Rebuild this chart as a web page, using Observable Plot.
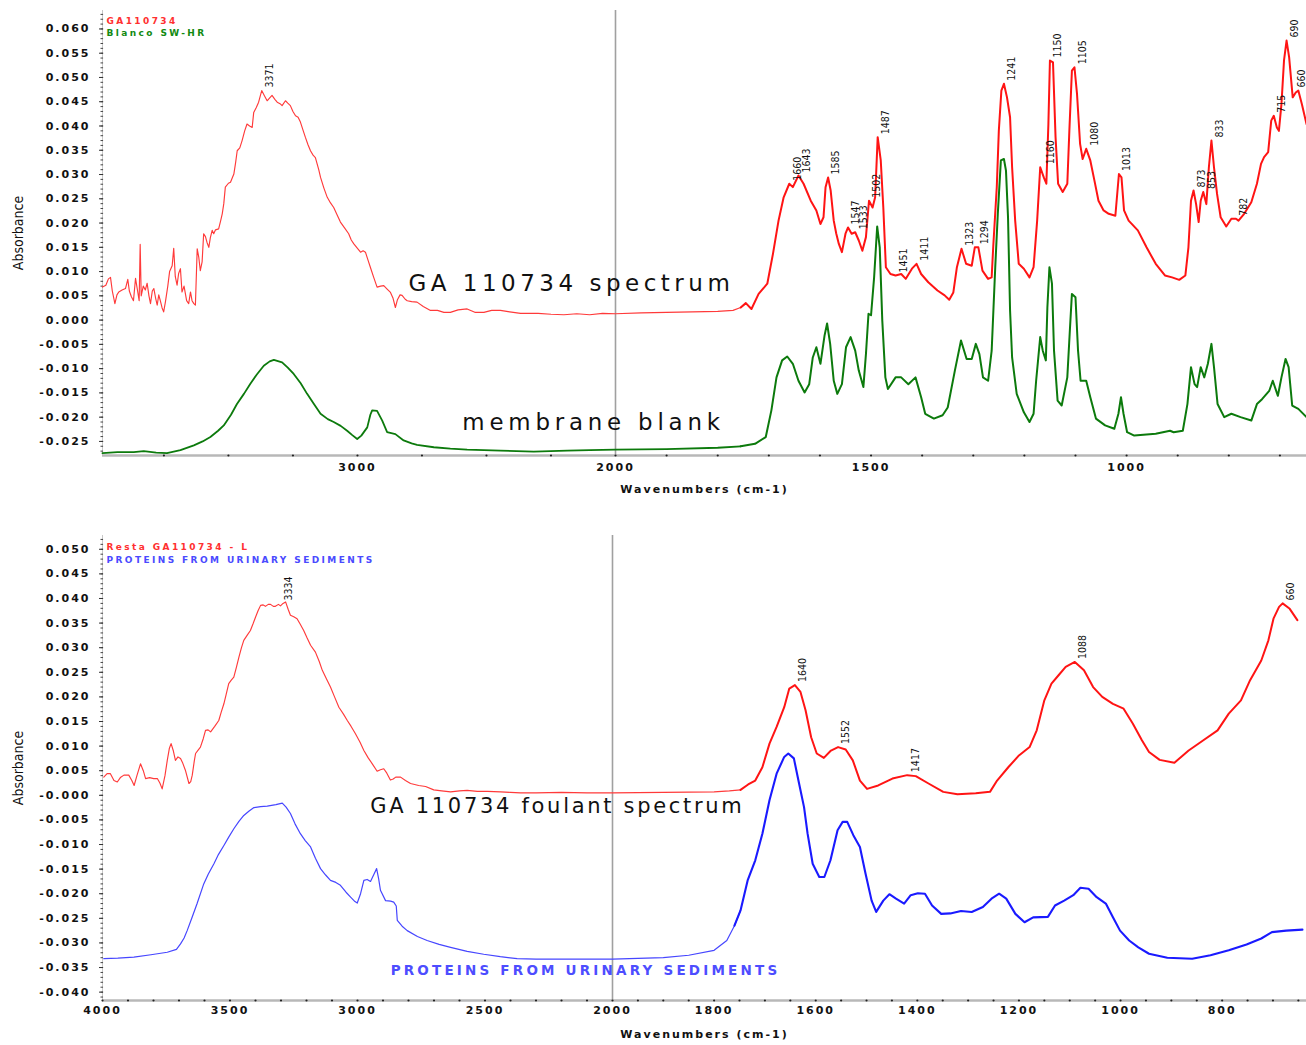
<!DOCTYPE html>
<html><head><meta charset="utf-8">
<script src="https://cdn.jsdelivr.net/npm/d3@7"></script>
<script src="https://cdn.jsdelivr.net/npm/@observablehq/plot@0.6"></script>
<style>
html,body{margin:0;padding:0;background:#fff;}
body{width:1306px;height:1045px;overflow:hidden;}
svg{display:block;}
</style>
</head><body><div id="chart"></div>
<script>
// ---------------- DATA (wavenumber cm-1, absorbance) ----------------
const gaSpectrum = [
[3988,0.0068],[3975,0.0072],[3965,0.0085],[3957,0.0088],[3950,0.0060],[3940,0.0034],[3932,0.0052],[3925,0.0058],[3912,0.0062],[3899,0.0065],[3890,0.0084],[3884,0.0060],[3876,0.0048],[3868,0.0040],[3860,0.0086],[3852,0.0060],[3846,0.0040],[3842,0.0156],[3838,0.0050],[3830,0.0070],[3822,0.0062],[3815,0.0076],[3808,0.0050],[3802,0.0034],[3795,0.0060],[3789,0.0065],[3782,0.0045],[3776,0.0031],[3770,0.0052],[3764,0.0040],[3757,0.0025],[3751,0.0017],[3744,0.0038],[3735,0.0070],[3728,0.0100],[3718,0.0112],[3712,0.0148],[3706,0.0090],[3699,0.0072],[3693,0.0096],[3686,0.0106],[3680,0.0058],[3672,0.0070],[3662,0.0040],[3654,0.0034],[3647,0.0058],[3641,0.0040],[3634,0.0034],[3628,0.0031],[3621,0.0147],[3615,0.0130],[3609,0.0102],[3602,0.0120],[3596,0.0178],[3589,0.0172],[3583,0.0160],[3576,0.0150],[3570,0.0170],[3563,0.0185],[3557,0.0178],[3550,0.0186],[3538,0.0188],[3530,0.0205],[3524,0.0219],[3518,0.0240],[3512,0.0274],[3500,0.0282],[3492,0.0284],[3479,0.0301],[3472,0.0325],[3466,0.0349],[3456,0.0355],[3447,0.0370],[3437,0.0390],[3428,0.0404],[3418,0.0400],[3408,0.0397],[3402,0.0428],[3392,0.0438],[3383,0.0449],[3371,0.0473],[3360,0.0462],[3350,0.0452],[3340,0.0458],[3331,0.0463],[3320,0.0455],[3311,0.0449],[3300,0.0446],[3292,0.0442],[3279,0.0452],[3270,0.0447],[3260,0.0442],[3250,0.0430],[3240,0.0421],[3230,0.0418],[3221,0.0408],[3210,0.0390],[3202,0.0377],[3192,0.0362],[3182,0.0349],[3172,0.0340],[3163,0.0335],[3150,0.0310],[3143,0.0294],[3130,0.0272],[3117,0.0253],[3105,0.0242],[3092,0.0232],[3080,0.0218],[3066,0.0202],[3050,0.0190],[3034,0.0178],[3024,0.0165],[3014,0.0157],[3000,0.0148],[2988,0.0140],[2978,0.0143],[2969,0.0140],[2960,0.0125],[2950,0.0109],[2937,0.0088],[2924,0.0068],[2910,0.0070],[2898,0.0071],[2885,0.0064],[2872,0.0057],[2862,0.0045],[2853,0.0026],[2845,0.0042],[2835,0.0052],[2827,0.0051],[2815,0.0043],[2807,0.0040],[2790,0.0038],[2769,0.0037],[2745,0.0028],[2717,0.0020],[2690,0.0020],[2665,0.0016],[2640,0.0016],[2610,0.0021],[2575,0.0023],[2545,0.0016],[2510,0.0016],[2480,0.0020],[2446,0.0020],[2410,0.0017],[2368,0.0014],[2300,0.0014],[2250,0.0012],[2200,0.0011],[2150,0.0013],[2100,0.0011],[2050,0.0014],[2000,0.0013],
[1950,0.0015],[1900,0.0016],[1850,0.0017],[1800,0.0018],[1770,0.0020],[1755,0.0026],[1745,0.0035],[1734,0.0023],[1720,0.0054],[1703,0.0075],[1692,0.0136],[1681,0.0205],[1671,0.0253],[1660,0.0281],[1653,0.0274],[1642,0.0298],[1632,0.0281],[1618,0.0246],[1607,0.0226],[1599,0.0198],[1593,0.0212],[1589,0.0274],[1584,0.0294],[1579,0.0267],[1573,0.0205],[1568,0.0178],[1563,0.0157],[1557,0.0140],[1550,0.0178],[1545,0.0191],[1538,0.0178],[1531,0.0181],[1524,0.0164],[1517,0.0143],[1510,0.0171],[1504,0.0246],[1497,0.0232],[1492,0.0253],[1487,0.0377],[1481,0.0329],[1476,0.0232],[1471,0.0109],[1462,0.0095],[1452,0.0092],[1441,0.0095],[1432,0.0085],[1420,0.0106],[1411,0.0116],[1402,0.0095],[1388,0.0078],[1370,0.0061],[1356,0.0051],[1347,0.0042],[1339,0.0057],[1332,0.0109],[1323,0.0147],[1314,0.0116],[1303,0.0112],[1297,0.0150],[1290,0.0150],[1282,0.0102],[1271,0.0085],[1264,0.0088],[1261,0.0150],[1254,0.0274],[1250,0.0390],[1245,0.0473],[1240,0.0487],[1234,0.0459],[1228,0.0418],[1224,0.0315],[1218,0.0205],[1211,0.0116],[1201,0.0106],[1190,0.0088],[1182,0.0109],[1175,0.0205],[1169,0.0315],[1162,0.0294],[1157,0.0281],[1153,0.0404],[1150,0.0535],[1144,0.0531],[1139,0.0377],[1134,0.0281],[1125,0.0264],[1116,0.0281],[1112,0.0390],[1107,0.0514],[1102,0.0521],[1097,0.0466],[1091,0.0363],[1086,0.0332],[1079,0.0353],[1071,0.0329],[1063,0.0288],[1055,0.0246],[1045,0.0226],[1035,0.0219],[1022,0.0215],[1015,0.0301],[1010,0.0294],[1005,0.0226],[996,0.0205],[978,0.0185],[961,0.0150],[943,0.0116],[925,0.0092],[911,0.0088],[897,0.0083],[885,0.0092],[879,0.0150],[874,0.0246],[869,0.0267],[864,0.0239],[859,0.0202],[855,0.0246],[850,0.0264],[844,0.0239],[839,0.0315],[834,0.0370],[829,0.0315],[823,0.0260],[816,0.0212],[805,0.0193],[795,0.0209],[786,0.0209],[781,0.0205],[770,0.0219],[756,0.0243],[745,0.0281],[737,0.0322],[731,0.0336],[723,0.0346],[717,0.0411],[712,0.0421],[706,0.0397],[702,0.0390],[697,0.0445],[692,0.0535],[687,0.0576],[682,0.0542],[675,0.0459],[669,0.0469],[664,0.0473],[657,0.0445],[648,0.0404]
];
const blankSpectrum = [
[3988,-0.0274],[3930,-0.0272],[3867,-0.0272],[3828,-0.0270],[3780,-0.0273],[3738,-0.0274],[3686,-0.0268],[3634,-0.0258],[3600,-0.0250],[3570,-0.0241],[3540,-0.0228],[3518,-0.0217],[3490,-0.0195],[3467,-0.0173],[3440,-0.0152],[3415,-0.0131],[3390,-0.0112],[3363,-0.0094],[3340,-0.0085],[3324,-0.0082],[3292,-0.0087],[3270,-0.0098],[3247,-0.0111],[3220,-0.0130],[3195,-0.0152],[3170,-0.0172],[3143,-0.0193],[3115,-0.0204],[3092,-0.0210],[3065,-0.0218],[3040,-0.0228],[3020,-0.0237],[3001,-0.0245],[2985,-0.0238],[2962,-0.0221],[2950,-0.0195],[2943,-0.0186],[2924,-0.0187],[2904,-0.0207],[2885,-0.0231],[2853,-0.0235],[2821,-0.0248],[2790,-0.0254],[2769,-0.0257],[2704,-0.0262],[2640,-0.0265],[2575,-0.0267],[2446,-0.0269],[2317,-0.0271],[2187,-0.0269],[2100,-0.0268],[2000,-0.0267],[1900,-0.0266],[1800,-0.0263],[1755,-0.0260],[1727,-0.0255],[1706,-0.0241],[1695,-0.0186],[1685,-0.0118],[1674,-0.0083],[1664,-0.0075],[1653,-0.0090],[1642,-0.0125],[1630,-0.0149],[1621,-0.0132],[1614,-0.0077],[1607,-0.0056],[1599,-0.0090],[1591,-0.0032],[1586,-0.0007],[1580,-0.0049],[1573,-0.0125],[1566,-0.0152],[1557,-0.0132],[1549,-0.0056],[1540,-0.0035],[1531,-0.0063],[1524,-0.0104],[1515,-0.0138],[1510,-0.0070],[1505,0.0013],[1500,0.0010],[1494,0.0088],[1488,0.0193],[1483,0.0150],[1478,-0.0001],[1472,-0.0118],[1467,-0.0142],[1452,-0.0118],[1441,-0.0118],[1427,-0.0132],[1413,-0.0118],[1402,-0.0159],[1394,-0.0193],[1377,-0.0203],[1360,-0.0196],[1350,-0.0180],[1336,-0.0104],[1324,-0.0042],[1313,-0.0080],[1303,-0.0080],[1295,-0.0049],[1288,-0.0070],[1281,-0.0118],[1271,-0.0125],[1264,-0.0063],[1257,0.0109],[1252,0.0219],[1246,0.0329],[1240,0.0332],[1236,0.0308],[1232,0.0212],[1228,0.0020],[1224,-0.0077],[1215,-0.0152],[1201,-0.0190],[1190,-0.0210],[1182,-0.0193],[1177,-0.0125],[1169,-0.0035],[1164,-0.0063],[1158,-0.0083],[1155,0.0026],[1151,0.0109],[1146,0.0075],[1142,-0.0063],[1135,-0.0166],[1127,-0.0176],[1116,-0.0118],[1111,-0.0021],[1107,0.0054],[1100,0.0047],[1095,-0.0063],[1090,-0.0125],[1079,-0.0125],[1071,-0.0159],[1060,-0.0203],[1042,-0.0217],[1024,-0.0224],[1016,-0.0193],[1011,-0.0159],[1006,-0.0193],[999,-0.0231],[985,-0.0238],[943,-0.0234],[915,-0.0228],[908,-0.0231],[890,-0.0228],[881,-0.0173],[874,-0.0097],[867,-0.0132],[862,-0.0138],[855,-0.0097],[848,-0.0118],[841,-0.0090],[834,-0.0049],[829,-0.0097],[822,-0.0173],[809,-0.0200],[795,-0.0193],[777,-0.0200],[756,-0.0207],[745,-0.0173],[735,-0.0163],[721,-0.0146],[714,-0.0125],[704,-0.0156],[697,-0.0118],[689,-0.0080],[683,-0.0097],[676,-0.0176],[664,-0.0183],[648,-0.0200]
];
const foulantSpectrum = [
[3995,0.0037],[3982,0.0044],[3969,0.0044],[3955,0.0030],[3942,0.0027],[3930,0.0036],[3916,0.0041],[3897,0.0041],[3885,0.0030],[3876,0.0020],[3865,0.0040],[3851,0.0064],[3840,0.0050],[3831,0.0034],[3815,0.0036],[3799,0.0034],[3785,0.0034],[3775,0.0025],[3766,0.0013],[3755,0.0040],[3746,0.0071],[3738,0.0095],[3731,0.0105],[3722,0.0090],[3714,0.0071],[3704,0.0078],[3694,0.0075],[3685,0.0065],[3675,0.0051],[3661,0.0024],[3654,0.0028],[3648,0.0041],[3640,0.0070],[3635,0.0085],[3625,0.0092],[3616,0.0098],[3605,0.0115],[3596,0.0132],[3586,0.0133],[3576,0.0129],[3560,0.0140],[3544,0.0152],[3535,0.0168],[3524,0.0186],[3515,0.0205],[3505,0.0227],[3495,0.0234],[3485,0.0240],[3475,0.0260],[3465,0.0281],[3455,0.0300],[3446,0.0315],[3433,0.0325],[3420,0.0335],[3410,0.0348],[3400,0.0362],[3390,0.0375],[3380,0.0386],[3370,0.0387],[3361,0.0384],[3350,0.0388],[3341,0.0388],[3330,0.0384],[3322,0.0384],[3310,0.0388],[3302,0.0385],[3292,0.0390],[3282,0.0393],[3272,0.0378],[3263,0.0366],[3250,0.0363],[3237,0.0359],[3225,0.0348],[3211,0.0335],[3198,0.0320],[3184,0.0305],[3165,0.0291],[3150,0.0272],[3138,0.0254],[3122,0.0237],[3106,0.0220],[3090,0.0200],[3073,0.0179],[3055,0.0165],[3040,0.0152],[3025,0.0140],[3008,0.0125],[2990,0.0108],[2975,0.0091],[2958,0.0076],[2942,0.0064],[2923,0.0049],[2910,0.0052],[2897,0.0054],[2885,0.0045],[2871,0.0031],[2860,0.0033],[2850,0.0037],[2831,0.0037],[2812,0.0030],[2792,0.0024],[2760,0.0020],[2733,0.0018],[2701,0.0011],[2670,0.0009],[2635,0.0007],[2600,0.0009],[2570,0.0010],[2530,0.0008],[2490,0.0008],[2439,0.0007],[2400,0.0006],[2361,0.0005],[2300,0.0005],[2200,0.0006],[2100,0.0005],[2000,0.0005],[1900,0.0006],[1800,0.0007],[1770,0.0009],[1748,0.0011],
[1733,0.0022],[1719,0.0030],[1705,0.0057],[1691,0.0105],[1677,0.0139],[1662,0.0179],[1652,0.0217],[1641,0.0224],[1630,0.0210],[1620,0.0173],[1609,0.0118],[1598,0.0085],[1584,0.0076],[1570,0.0091],[1556,0.0098],[1541,0.0093],[1527,0.0071],[1513,0.0030],[1499,0.0013],[1477,0.0020],[1449,0.0034],[1420,0.0041],[1403,0.0039],[1378,0.0024],[1349,0.0007],[1321,0.0002],[1285,0.0004],[1257,0.0007],[1243,0.0030],[1221,0.0057],[1200,0.0081],[1179,0.0098],[1165,0.0132],[1150,0.0193],[1136,0.0227],[1122,0.0244],[1108,0.0261],[1090,0.0271],[1072,0.0254],[1054,0.0220],[1036,0.0200],[1015,0.0186],[994,0.0176],[976,0.0146],[958,0.0112],[944,0.0088],[923,0.0072],[894,0.0066],[866,0.0091],[837,0.0112],[809,0.0132],[787,0.0166],[763,0.0193],[745,0.0234],[723,0.0274],[709,0.0315],[699,0.0359],[688,0.0383],[681,0.0390],[667,0.0379],[652,0.0356]
];
const proteinSpectrum = [
[3995,-0.0332],[3940,-0.0331],[3877,-0.0329],[3810,-0.0324],[3746,-0.0319],[3710,-0.0313],[3694,-0.0302],[3680,-0.0290],[3668,-0.0275],[3650,-0.0250],[3629,-0.0220],[3603,-0.0180],[3585,-0.0160],[3563,-0.0139],[3545,-0.0120],[3524,-0.0102],[3505,-0.0085],[3485,-0.0068],[3465,-0.0053],[3446,-0.0041],[3425,-0.0032],[3406,-0.0025],[3380,-0.0023],[3354,-0.0022],[3320,-0.0019],[3295,-0.0016],[3280,-0.0024],[3263,-0.0037],[3245,-0.0058],[3224,-0.0078],[3205,-0.0092],[3184,-0.0105],[3165,-0.0128],[3145,-0.0149],[3125,-0.0162],[3106,-0.0173],[3085,-0.0177],[3067,-0.0183],[3045,-0.0197],[3027,-0.0207],[3010,-0.0216],[3001,-0.0219],[2988,-0.0200],[2975,-0.0173],[2962,-0.0171],[2949,-0.0175],[2935,-0.0160],[2925,-0.0149],[2917,-0.0170],[2910,-0.0193],[2890,-0.0214],[2870,-0.0215],[2858,-0.0217],[2848,-0.0225],[2844,-0.0254],[2825,-0.0266],[2805,-0.0275],[2765,-0.0287],[2727,-0.0295],[2680,-0.0303],[2635,-0.0309],[2570,-0.0317],[2505,-0.0323],[2440,-0.0328],[2374,-0.0332],[2300,-0.0333],[2200,-0.0333],[2100,-0.0333],[2000,-0.0333],[1900,-0.0330],[1850,-0.0325],[1800,-0.0315],[1775,-0.0295],[1760,-0.0265],[1748,-0.0234],
[1734,-0.0173],[1719,-0.0132],[1705,-0.0078],[1691,-0.0010],[1677,0.0044],[1662,0.0078],[1654,0.0085],[1643,0.0075],[1634,0.0030],[1623,-0.0024],[1616,-0.0078],[1606,-0.0139],[1593,-0.0166],[1583,-0.0166],[1571,-0.0132],[1557,-0.0071],[1547,-0.0054],[1538,-0.0054],[1526,-0.0081],[1513,-0.0105],[1502,-0.0159],[1490,-0.0214],[1481,-0.0237],[1467,-0.0214],[1455,-0.0201],[1442,-0.0210],[1426,-0.0220],[1413,-0.0203],[1399,-0.0199],[1385,-0.0200],[1371,-0.0224],[1353,-0.0241],[1335,-0.0240],[1314,-0.0235],[1293,-0.0237],[1271,-0.0227],[1254,-0.0210],[1239,-0.0200],[1225,-0.0210],[1207,-0.0241],[1189,-0.0258],[1172,-0.0248],[1143,-0.0247],[1129,-0.0224],[1111,-0.0214],[1093,-0.0203],[1079,-0.0188],[1063,-0.0190],[1047,-0.0207],[1029,-0.0220],[1015,-0.0248],[1001,-0.0275],[983,-0.0295],[965,-0.0309],[944,-0.0322],[908,-0.0330],[859,-0.0332],[823,-0.0325],[787,-0.0315],[752,-0.0303],[723,-0.0291],[702,-0.0278],[674,-0.0275],[642,-0.0273]
];
// peak labels: [wavenumber, absorbance, label]
const topPeaks = [
[3371,0.0473,"3371"],[1660,0.0281,"1660"],[1642,0.0298,"1643"],[1584,0.0294,"1585"],[1545,0.0191,"1547"],[1531,0.0181,"1533"],[1504,0.0246,"1502"],[1487,0.0377,"1487"],[1452,0.0092,"1451"],[1411,0.0116,"1411"],[1323,0.0147,"1323"],[1294,0.0150,"1294"],[1240,0.0487,"1241"],[1165,0.0315,"1160"],[1150,0.0535,"1150"],[1102,0.0521,"1105"],[1079,0.0353,"1080"],[1015,0.0301,"1013"],[869,0.0267,"873"],[850,0.0264,"853"],[834,0.0370,"833"],[786,0.0209,"782"],[712,0.0421,"715"],[687,0.0576,"690"],[664,0.0473,"660"]
];
const bottomPeaks = [
[3300,0.0390,"3334"],[1641,0.0224,"1640"],[1556,0.0098,"1552"],[1420,0.0041,"1417"],[1090,0.0271,"1088"],[681,0.0390,"660"]
];
// annotations: [wavenumber, absorbance, text]
const topAnnotations = [[2171,0.0075,"GA 110734 spectrum"],[2085,-0.0212,"membrane blank"]];
const bottomAnnotations = [[2216,-0.0022,"GA 110734 foulant spectrum"],[2106,-0.0356,"PROTEINS FROM URINARY SEDIMENTS"]];
// legends
const topLegend = ["GA110734","Blanco SW-HR"];
const bottomLegend = ["Resta GA110734 - L","PROTEINS FROM URINARY SEDIMENTS"];
// ticks
const topXTicks = [3000,2000,1500,1000];
const topXLabels = ["3000","2000","1500","1000"];
const bottomXTicks = [4000,3500,3000,2500,2000,1800,1600,1400,1200,1000,800];
const bottomXLabels = ["4000","3500","3000","2500","2000","1800","1600","1400","1200","1000","800"];
const topYTicks = [0.060,0.055,0.050,0.045,0.040,0.035,0.030,0.025,0.020,0.015,0.010,0.005,0.000,-0.005,-0.010,-0.015,-0.020,-0.025];
const topYLabels = ["0.060","0.055","0.050","0.045","0.040","0.035","0.030","0.025","0.020","0.015","0.010","0.005","0.000","-0.005","-0.010","-0.015","-0.020","-0.025"];
const bottomYTicks = [0.050,0.045,0.040,0.035,0.030,0.025,0.020,0.015,0.010,0.005,0.000,-0.005,-0.010,-0.015,-0.020,-0.025,-0.030,-0.035,-0.040];
const bottomYLabels = ["0.050","0.045","0.040","0.035","0.030","0.025","0.020","0.015","0.010","0.005","-0.000","-0.005","-0.010","-0.015","-0.020","-0.025","-0.030","-0.035","-0.040"];

// ---------------- DRAWING ----------------
const FONT = "'DejaVu Sans', Verdana, sans-serif";
const NARROW = "'Liberation Sans Narrow', 'DejaVu Sans Condensed', 'Liberation Sans', sans-serif";

function panel(p) {
  const xLeft = p.xDomain[0];
  const [yLo, yHi] = p.yDomain;
  const minorY = d3.range(Math.ceil(yLo * 1000), Math.floor(yHi * 1000) + 1).map(k => k / 1000);
  const marks = [
    Plot.ruleX([xLeft], {stroke: "#c8c8c8", strokeWidth: 1}),
    Plot.ruleY(minorY, {y: d => d, x1: xLeft, x2: xLeft - p.dashLen, dx: -1.5, stroke: "#444", strokeWidth: 1}),
    Plot.ruleY(p.yTicks, {y: d => d, x1: xLeft, x2: xLeft - p.dashLen * 1.6, dx: -3, stroke: "#333", strokeWidth: 1}),
    Plot.ruleX([2000], {stroke: "#a0a0a0", strokeWidth: 1.6}),
    Plot.ruleY([yLo], {stroke: "#b8b8b8", strokeWidth: 2.5}),
    Plot.dot(p.xMinor, {x: d => d, y: yLo, r: 1.1, fill: "#222", stroke: "none"})
  ];
  for (const s of p.series) {
    const left = s.data.filter(d => d[0] >= 1745);
    const right = s.data.filter(d => d[0] <= 1760);
    marks.push(Plot.line(left, {x: d => d[0], y: d => d[1], stroke: s.leftColor, strokeWidth: s.leftWidth}));
    marks.push(Plot.line(right, {x: d => d[0], y: d => d[1], stroke: s.color, strokeWidth: s.width}));
  }
  marks.push(
    Plot.text(p.peaks, {x: d => Math.max(d[0], p.labelMinWn), y: d => d[1], text: d => d[2], rotate: -90, textAnchor: "start", dx: 8, dy: -3, fontSize: 10.5, fontFamily: NARROW, fill: "#111"}),
    Plot.text(p.yTicks, {y: d => d, text: (d, i) => p.yLabels[i], frameAnchor: "left", textAnchor: "end", dx: -12, fontSize: 11, fontWeight: "bold", fontFamily: FONT, fill: "#111"}),
    Plot.text(p.xTicks, {x: d => d, text: (d, i) => p.xLabels[i], frameAnchor: "bottom", textAnchor: "middle", dy: p.xLabelDy, fontSize: 11, fontWeight: "bold", fontFamily: FONT, fill: "#111"}),
    Plot.text(["Wavenumbers (cm-1)"], {text: d => d, frameAnchor: "bottom", textAnchor: "middle", dy: 37, fontSize: 11, fontWeight: "bold", fontFamily: FONT, fill: "#111"}),
    Plot.text(["Absorbance"], {text: d => d, frameAnchor: "left", textAnchor: "middle", rotate: -90, dx: -84, fontSize: 14, fontFamily: NARROW, fill: "#111"}),
    Plot.text([p.legend[0]], {text: d => d, frameAnchor: "top-left", textAnchor: "start", dx: 4, dy: p.legendDy[0], fontSize: 9, fontWeight: "bold", fontFamily: FONT, fill: p.legendColors[0]}),
    Plot.text([p.legend[1]], {text: d => d, frameAnchor: "top-left", textAnchor: "start", dx: 4, dy: p.legendDy[1], fontSize: 9, fontWeight: "bold", fontFamily: FONT, fill: p.legendColors[1]})
  );
  for (const a of p.annots) {
    marks.push(Plot.text([a.d], {x: d => d[0], y: d => d[1], text: d => d[2], textAnchor: "middle", fontSize: a.size, fontWeight: a.weight || "normal", fontFamily: FONT, fill: a.color}));
  }
  return Plot.plot({
    width: 1306, height: p.height,
    marginTop: p.marginTop, marginBottom: p.marginBottom, marginLeft: 102, marginRight: 0,
    x: {type: "linear", domain: p.xDomain, range: p.xRange, nice: false, axis: null},
    y: {type: "linear", domain: p.yDomain, nice: false, axis: null},
    style: {background: "white", overflow: "hidden"},
    marks
  });
}

const topSvg = panel({
  height: 505, marginTop: 10, marginBottom: 50,
  xDomain: [3988, 2000, 648], xRange: [102, 615, 1306],
  yDomain: [-0.0279, 0.0638], dashLen: 10, labelMinWn: 673,
  xMinor: d3.range(3750, 1999, -250).concat(d3.range(1900, 649, -100)),
  series: [
    {data: gaSpectrum, color: "#ff1414", width: 2, leftColor: "#ff3a3a", leftWidth: 1.15},
    {data: blankSpectrum, color: "#0c7a0c", width: 2, leftColor: "#0c7a0c", leftWidth: 1.8}
  ],
  peaks: topPeaks,
  yTicks: topYTicks, yLabels: topYLabels, xTicks: topXTicks, xLabels: topXLabels, xLabelDy: 15,
  legend: topLegend, legendColors: ["#ff3030", "#128a12"], legendDy: [7, 19],
  annots: [
    {d: topAnnotations[0], size: 23, color: "#111"},
    {d: topAnnotations[1], size: 22.9, color: "#111"}
  ]
});
const bottomSvg = panel({
  height: 540, marginTop: 30, marginBottom: 45,
  xDomain: [4000, 2000, 634], xRange: [102, 612, 1306],
  yDomain: [-0.0417, 0.0528], dashLen: 10, labelMinWn: 0,
  xMinor: d3.range(4000, 1999, -100).concat(d3.range(1950, 649, -50)),
  series: [
    {data: foulantSpectrum, color: "#ff1414", width: 2, leftColor: "#ff3a3a", leftWidth: 1.15},
    {data: proteinSpectrum, color: "#1a1aff", width: 2.1, leftColor: "#4646ff", leftWidth: 1.2}
  ],
  peaks: bottomPeaks,
  yTicks: bottomYTicks, yLabels: bottomYLabels, xTicks: bottomXTicks, xLabels: bottomXLabels, xLabelDy: 13,
  legend: bottomLegend, legendColors: ["#ff3030", "#4a4aff"], legendDy: [8, 21],
  annots: [
    {d: bottomAnnotations[0], size: 21, color: "#111"},
    {d: bottomAnnotations[1], size: 13.5, weight: "bold", color: "#4d4dff"}
  ]
});

// letter spacing (wide glyph look of the original) keyed by each text mark's font size
const spacingBySize = {"11": "2px", "9": "2.4px", "23": "4.5px", "22.9": "4.8px", "21": "2.7px", "13.5": "3.2px"};
for (const svg of [topSvg, bottomSvg]) {
  svg.querySelectorAll("[font-size]").forEach(el => {
    const s = spacingBySize[el.getAttribute("font-size")];
    if (s) el.style.letterSpacing = s;
  });
}
const root = document.getElementById("chart");
root.appendChild(topSvg);
root.appendChild(bottomSvg);
</script>
</body></html>
